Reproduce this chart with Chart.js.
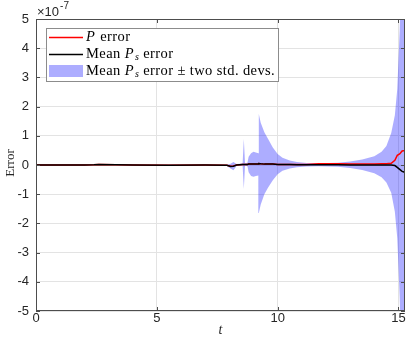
<!DOCTYPE html>
<html>
<head>
<meta charset="utf-8">
<script src="https://cdn.jsdelivr.net/npm/chart.js@4.4.1/dist/chart.umd.min.js"></script>
<style>
    html, body { margin: 0; padding: 0; background: #fff; }
    #caixa { width: 407px; height: 345px; }
</style>
</head>
<body>
<div id="caixa"><canvas id="grafico"></canvas></div>
<script>
// Tempo t (eixo x)
const tempo = [0, 1, 2, 2.4, 2.6, 4, 5.5, 7, 7.9, 8.05,
    8.17, 8.3, 8.55, 8.6, 8.65, 8.75, 8.8, 8.9, 9.0, 9.1,
    9.2, 9.22, 9.3, 9.45, 9.6, 9.8, 10.0, 10.2, 10.5, 10.8,
    11.2, 11.7, 12.5, 13.0, 13.5, 14.0, 14.3, 14.5, 14.7, 14.85,
    14.95, 15.05, 15.15, 15.3];

// Valores em unidades de 1e-7
const erroP = [0, 0, 0, 0.01, 0.02, 0, -0.01, 0, -0.01, -0.04,
    -0.03, 0, 0.02, 0.02, 0.02, 0.02, 0.03, 0.03, 0.03, 0.03,
    0.03, 0.05, 0.04, 0.03, 0.03, 0.03, 0.02, 0.02, 0.02, 0.02,
    0.02, 0.04, 0.04, 0.03, 0.03, 0.03, 0.04, 0.04, 0.06, 0.16,
    0.33, 0.38, 0.48, 0.5];

const erroMedio = [0, 0, 0, 0.01, 0.02, 0, -0.01, 0, -0.01, -0.05,
    -0.04, 0, 0.02, 0.02, 0.02, 0.02, 0.03, 0.03, 0.03, 0.03,
    0.03, 0.05, 0.04, 0.03, 0.03, 0.03, 0.02, 0.02, 0.02, 0.01,
    0.01, 0.01, 0.01, 0, 0, 0, 0, 0, 0, -0.02,
    -0.08, -0.15, -0.22, -0.26];

// Média ± dois desvios padrão
const bandaSup = [0.01, 0.01, 0.01, 0.02, 0.03, 0.01, 0.01, 0.01, 0.01, 0.04,
    0.1, 0.03, 0.05, 0.89, 0.06, 0.08, 0.28, 0.4, 0.45, 0.43,
    0.4, 1.75, 1.45, 1.12, 0.9, 0.6, 0.38, 0.25, 0.15, 0.1,
    0.07, 0.06, 0.08, 0.12, 0.19, 0.3, 0.45, 0.65, 1.1, 1.7,
    2.6, 4.6, 7.5, 9];

const bandaInf = [-0.01, -0.01, -0.01, 0, 0.01, -0.01, -0.03, -0.01, -0.03, -0.12,
    -0.18, -0.03, -0.02, -0.82, -0.02, -0.04, -0.25, -0.38, -0.4, -0.38,
    -0.36, -1.64, -1.35, -1.0, -0.78, -0.52, -0.32, -0.2, -0.12, -0.08,
    -0.05, -0.04, -0.06, -0.1, -0.17, -0.28, -0.42, -0.6, -0.95, -1.6,
    -2.5, -4.5, -7.5, -9];

const ticksX = [0, 5, 10, 15];
const ticksY = [-5, -4, -3, -2, -1, 0, 1, 2, 3, 4, 5];

const COR_BANDA = 'rgba(0, 0, 255, 0.32)';
const FONTE_TXT = 'Liberation Serif';

const serie = valores => tempo.map((t, i) => ({ x: t, y: valores[i] }));

// Moldura do gráfico com ticks para dentro (estilo MATLAB)
const moldura = {
    id: 'moldura',
    afterDraw(chart) {
        const { ctx, chartArea: a, scales: { x, y } } = chart;
        ctx.save();
        ctx.strokeStyle = '#4d4d4d';
        ctx.lineWidth = 1;
        ctx.beginPath();
        ticksX.forEach(v => {
            const px = Math.round(x.getPixelForValue(v)) + 0.5;
            ctx.moveTo(px, a.bottom); ctx.lineTo(px, a.bottom - 4);
            ctx.moveTo(px, a.top); ctx.lineTo(px, a.top + 4);
        });
        ticksY.forEach(v => {
            const py = Math.round(y.getPixelForValue(v)) + 0.5;
            ctx.moveTo(a.left, py); ctx.lineTo(a.left + 4, py);
            ctx.moveTo(a.right, py); ctx.lineTo(a.right - 4, py);
        });
        ctx.stroke();
        ctx.strokeRect(a.left + 0.5, a.top + 0.5, a.right - a.left - 1, a.bottom - a.top - 1);
        ctx.restore();
    }
};

// Rótulos: título dos eixos e expoente
const rotulos = {
    id: 'rotulos',
    afterDraw(chart) {
        const { ctx, chartArea: a } = chart;
        ctx.save();
        ctx.fillStyle = '#262626';
        ctx.textAlign = 'center';
        ctx.textBaseline = 'middle';
        ctx.font = 'italic 14px ' + FONTE_TXT;
        ctx.fillText('t', (a.left + a.right) / 2, 330);

        ctx.translate(11, (a.top + a.bottom) / 2 - 2);
        ctx.rotate(-Math.PI / 2);
        ctx.font = '13px ' + FONTE_TXT;
        ctx.fillText('Error', 0, 0);
        ctx.restore();

        ctx.save();
        ctx.fillStyle = '#262626';
        ctx.textAlign = 'left';
        ctx.textBaseline = 'alphabetic';
        ctx.font = '13px Liberation Sans';
        ctx.fillText('\u00d710', 37, 16);
        const w = ctx.measureText('\u00d710').width;
        ctx.font = '10px Liberation Sans';
        ctx.fillText('-7', 37 + w + 1, 9);
        ctx.restore();
    }
};

// Legenda dentro da área do gráfico
const itensLegenda = [
    { tipo: 'linha', cor: '#ff0000', partes: [['P', 'i'], [' error', 'n']] },
    { tipo: 'linha', cor: '#000000', partes: [['Mean ', 'n'], ['P', 'i'], ['s', 's'], [' error', 'n']] },
    { tipo: 'area', cor: COR_BANDA, partes: [['Mean ', 'n'], ['P', 'i'], ['s', 's'], [' error \u00b1 two std. devs.', 'n']] }
];

const legenda = {
    id: 'legenda',
    afterDraw(chart) {
        const ctx = chart.ctx;
        const ys = [37.5, 54.5, 71];
        ctx.save();
        ctx.fillStyle = '#fff';
        ctx.fillRect(46, 28, 232, 53);
        ctx.strokeStyle = '#8c8c8c';
        ctx.lineWidth = 1;
        ctx.strokeRect(46.5, 28.5, 232, 53);
        ctx.letterSpacing = '0.4px';
        itensLegenda.forEach((item, i) => {
            const yc = ys[i];
            if (item.tipo === 'linha') {
                ctx.strokeStyle = item.cor;
                ctx.lineWidth = 1.5;
                ctx.beginPath();
                ctx.moveTo(49, yc); ctx.lineTo(83, yc);
                ctx.stroke();
            } else {
                ctx.fillStyle = item.cor;
                ctx.fillRect(49, yc - 6, 34, 12);
            }
            let xt = 86;
            ctx.fillStyle = '#000';
            ctx.textBaseline = 'middle';
            item.partes.forEach(([txt, estilo]) => {
                let dy = 0;
                if (estilo === 'i') ctx.font = 'italic 14.5px ' + FONTE_TXT;
                else if (estilo === 's') { ctx.font = 'italic 10px ' + FONTE_TXT; dy = 3; }
                else ctx.font = '14.5px ' + FONTE_TXT;
                ctx.fillText(txt, xt, yc + dy);
                xt += ctx.measureText(txt).width + (estilo === 'i' ? 1 : 0);
            });
        });
        ctx.restore();
    }
};

// Função genérica para criar o gráfico
function criarGrafico(ctxId) {
    const ctx = document.getElementById(ctxId).getContext('2d');
    const fonteTicks = { family: 'Liberation Sans', size: 13 };
    return new Chart(ctx, {
        type: 'line',
        data: {
            datasets: [
                { label: 'Mean Ps error', data: serie(erroMedio), borderColor: '#000', borderWidth: 1.5, pointRadius: 0, fill: false },
                { label: 'P error', data: serie(erroP), borderColor: '#ff0000', borderWidth: 1.5, pointRadius: 0, fill: false },
                { label: 'banda sup', data: serie(bandaSup), borderWidth: 0, borderColor: 'rgba(0,0,0,0)', backgroundColor: COR_BANDA, pointRadius: 0, fill: '+1' },
                { label: 'banda inf', data: serie(bandaInf), borderWidth: 0, borderColor: 'rgba(0,0,0,0)', pointRadius: 0, fill: false }
            ]
        },
        options: {
            responsive: true,
            maintainAspectRatio: false,
            animation: false,
            layout: { padding: { top: 19, right: 2, left: 0, bottom: 0 } },
            plugins: { legend: { display: false }, tooltip: { enabled: false } },
            scales: {
                x: {
                    type: 'linear', min: 0, max: 15.27,
                    afterBuildTicks: s => { s.ticks = ticksX.map(v => ({ value: v })); },
                    afterFit: s => { s.height = 34; },
                    grid: { color: '#e3e3e3', drawTicks: false },
                    border: { display: false },
                    ticks: { padding: 0, maxRotation: 0, color: '#262626', font: fonteTicks }
                },
                y: {
                    type: 'linear', min: -5, max: 5,
                    afterBuildTicks: s => { s.ticks = ticksY.map(v => ({ value: v })); },
                    afterFit: s => { s.width = 36; },
                    grid: { color: '#e3e3e3', drawTicks: false },
                    border: { display: false },
                    ticks: { padding: 7, color: '#262626', font: fonteTicks }
                }
            }
        },
        plugins: [moldura, rotulos, legenda]
    });
}

criarGrafico('grafico');
</script>
</body>
</html>
